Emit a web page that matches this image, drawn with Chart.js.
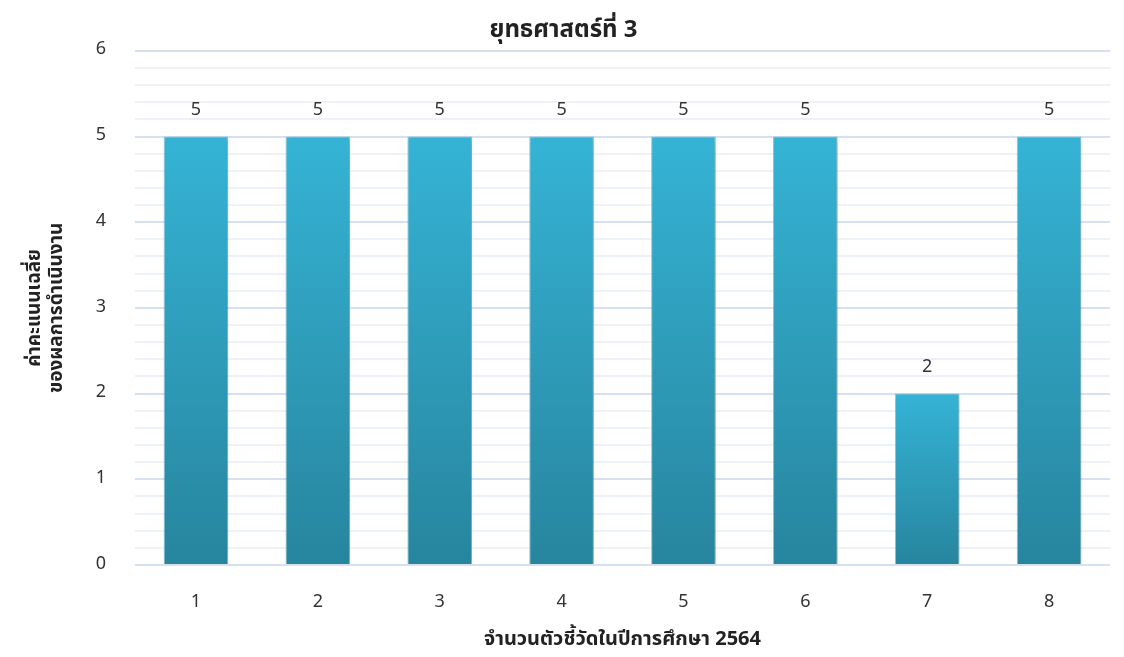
<!DOCTYPE html>
<html>
<head>
<meta charset="utf-8">
<script src="https://cdn.jsdelivr.net/npm/chart.js@4/dist/chart.umd.min.js"></script>
<style>
    html, body { margin: 0; padding: 0; background: #fff; }
    #wrap { width: 1124px; height: 657px; }
</style>
</head>
<body>
<div id="wrap"><canvas id="barChart"></canvas></div>
<script>
// ข้อมูลกราฟ
const categories = ["1", "2", "3", "4", "5", "6", "7", "8"];
const scores = [5, 5, 5, 5, 5, 5, 2, 5];
const chartTitle = "ยุทธศาสตร์ที่ 3";
const xTitle = "จำนวนตัวชี้วัดในปีการศึกษา 2564";
const yTitle = ["ค่าคะแนนเฉลี่ย", "ของผลการดำเนินงาน"];

const FONT = "'Leelawadee UI', Tahoma, 'Noto Sans Thai', 'Open Sans', sans-serif";

// gradient per bar (top bright, bottom dark)
function barGradient(context) {
    const chart = context.chart;
    const { ctx, chartArea, scales } = chart;
    if (!chartArea || context.parsed === undefined) return "#31a6c6";
    const top = scales.y.getPixelForValue(context.parsed.y);
    const bottom = scales.y.getPixelForValue(0);
    const g = ctx.createLinearGradient(0, top, 0, bottom);
    g.addColorStop(0, "#35b3d5");
    g.addColorStop(1, "#27859e");
    return g;
}

// ตัวเลขบนแท่ง
const valueLabels = {
    id: "valueLabels",
    afterDatasetsDraw(chart) {
        const ctx = chart.ctx;
        const meta = chart.getDatasetMeta(0);
        ctx.save();
        ctx.font = "18px " + FONT;
        ctx.fillStyle = "#333";
        ctx.textAlign = "center";
        ctx.textBaseline = "middle";
        meta.data.forEach((bar, i) => {
            ctx.fillText(chart.data.datasets[0].data[i], bar.x, bar.y - 25);
        });
        ctx.restore();
    }
};

// เงาแท่ง
const barShadow = {
    id: "barShadow",
    beforeDatasetsDraw(chart) {
        const ctx = chart.ctx;
        ctx.save();
        ctx.shadowColor = "rgba(0,0,0,0.25)";
        ctx.shadowBlur = 6;
        ctx.shadowOffsetX = 2;
        ctx.shadowOffsetY = 1;
    },
    afterDatasetsDraw(chart) {
        chart.ctx.restore();
    }
};

const isMajor = v => Math.abs(v - Math.round(v)) < 1e-6;

new Chart(document.getElementById("barChart"), {
    type: "bar",
    data: {
        labels: categories,
        datasets: [{
            data: scores,
            backgroundColor: barGradient,
            borderColor: "rgba(95,190,218,0.7)",
            borderWidth: 1,
            categoryPercentage: 1,
            barPercentage: 0.53
        }]
    },
    options: {
        responsive: true,
        maintainAspectRatio: false,
        animation: false,
        layout: { padding: { left: 17, right: 14, top: 0, bottom: 2 } },
        plugins: {
            legend: { display: false },
            tooltip: { enabled: false },
            title: {
                display: true,
                text: chartTitle,
                color: "#222",
                font: { family: FONT, size: 24, weight: "bold" },
                padding: { top: 18, bottom: 4 }
            }
        },
        scales: {
            x: {
                grid: { display: false },
                border: { display: false },
                afterFit: s => { s.height = 90; },
                ticks: { color: "#333", font: { family: FONT, size: 18 }, padding: 20 },
                title: {
                    display: true,
                    text: xTitle,
                    color: "#222",
                    font: { family: FONT, size: 20, weight: "bold" },
                    padding: { top: 15, bottom: 2 }
                }
            },
            y: {
                min: 0,
                max: 6,
                border: { display: false },
                afterFit: s => { s.width = 118; },
                grid: {
                    drawTicks: false,
                    color: ctx => isMajor(ctx.tick.value) ? "#d5e1f1" : "#edf2f9",
                    lineWidth: 2
                },
                ticks: {
                    stepSize: 0.2,
                    autoSkip: false,
                    padding: 29,
                    color: "#333",
                    font: { family: FONT, size: 18 },
                    callback: v => isMajor(v) ? Math.round(v) : ""
                },
                title: {
                    display: true,
                    text: yTitle,
                    color: "#222",
                    font: { family: FONT, size: 19, weight: "bold", lineHeight: 1.18 },
                    padding: { top: 8, bottom: 14 }
                }
            }
        }
    },
    plugins: [barShadow, valueLabels]
});
</script>
</body>
</html>
